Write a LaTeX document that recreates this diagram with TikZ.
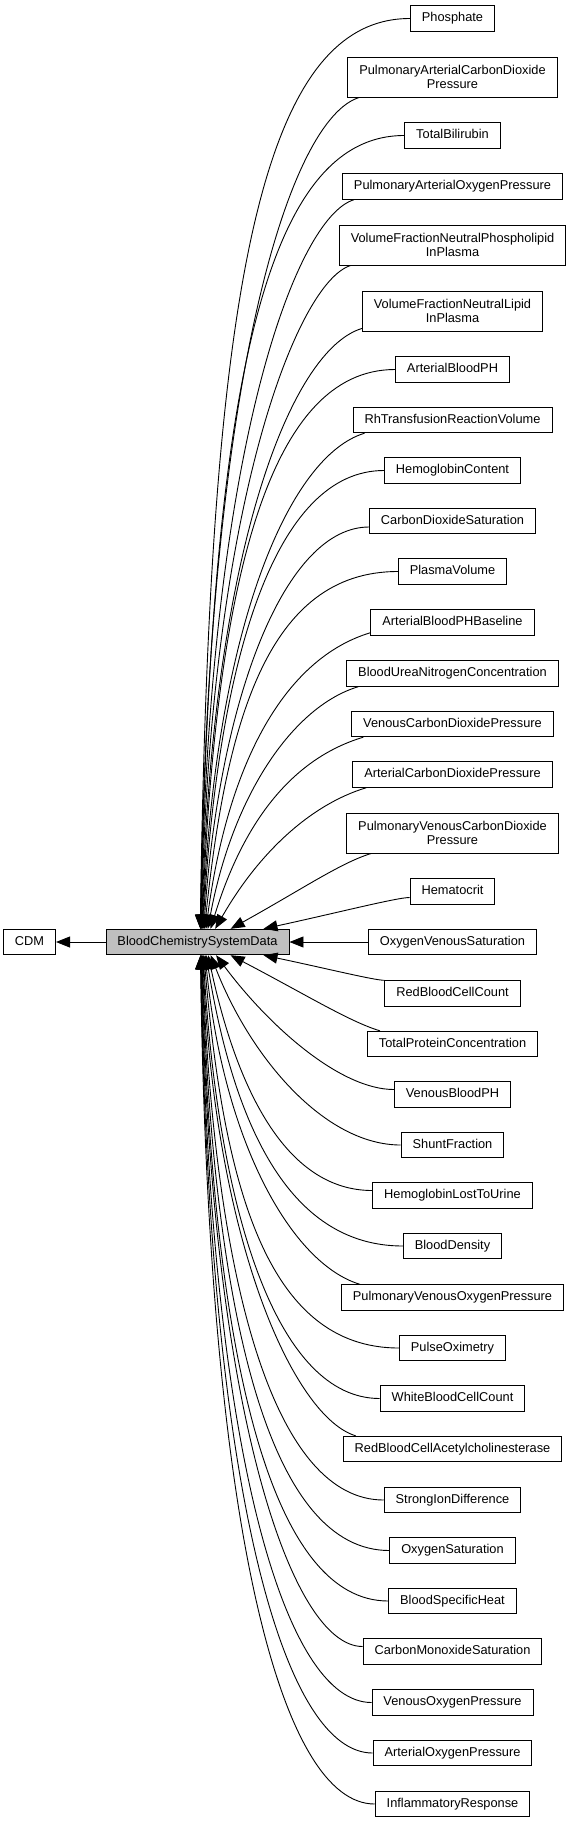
\documentclass[tikz,border=0pt]{standalone}
\usepackage{fontspec}
\setmainfont{Liberation Sans}
\usetikzlibrary{arrows.meta,calc}
\definecolor{bcfill}{HTML}{BFBFBF}
\tikzset{
 box/.style={draw=black, line width=0.9pt, fill=white, inner xsep=11.5pt, inner ysep=0pt, font=\fontsize{12.8}{14}\selectfont},
 one/.style={box, minimum height=25.5pt, text height=9.4pt, text depth=2.6pt},
 two/.style={box, minimum height=40pt, align=center},
 edge/.style={draw=black, line width=0.9pt, -{Triangle[length=14pt,width=11pt]}},
}
% #1 gamma (downward lean of first control), #2 start coordinate
\newcommand\upedge[2][0]{%
 \draw[edge] let \p1=(#2), \p2=(bcsd.north),
   \n1={\y1-\y2},
   \n2={\x2+min(66,2500/\n1)},
   \n3={max(300-0.65*(\x1-348),\x1-0.4*\n1)},
   \n4={min(0.5,40/\n1)},
   \n5={0.5+0.2*min(1,\n1/900)}
 in (\p1) .. controls (\n3,{\y1-#1*(\x1-\n3)}) and ({\n2+\n4*(\x1-\n2)},{\y2+\n5*\n1}) .. (\n2,\y2);}
\newcommand\lowedge[2][0]{%
 \draw[edge] let \p1=(#2), \p2=(bcsd.south),
   \n1={\y2-\y1},
   \n2={\x2+min(66,2500/\n1)},
   \n3={max(300-0.65*(\x1-348),\x1-0.4*\n1)},
   \n4={min(0.5,40/\n1)},
   \n5={0.5+0.2*min(1,\n1/900)}
 in (\p1) .. controls (\n3,{\y1+#1*(\x1-\n3)}) and ({\n2+\n4*(\x1-\n2)},{\y2-\n5*\n1}) .. (\n2,\y2);}
\begin{document}
\begin{tikzpicture}[x=1pt,y=1pt]
\useasboundingbox (0,0) rectangle (572,-1823);
\node[one] (cdm) at (29.5,-942) {CDM};
\node[one, fill=bcfill] (bcsd) at (197.5,-942) {BloodChemistrySystemData};
\node[one] (n1) at (452.5,-18.5) {Phosphate};
\node[two] (n2) at (452.5,-77) {PulmonaryArterialCarbonDioxide\\Pressure};
\node[one] (n3) at (452.5,-135.5) {TotalBilirubin};
\node[one] (n4) at (452.5,-186.5) {PulmonaryArterialOxygenPressure};
\node[two] (n5) at (452.5,-245) {VolumeFractionNeutralPhospholipid\\InPlasma};
\node[two] (n6) at (452.5,-311) {VolumeFractionNeutralLipid\\InPlasma};
\node[one] (n7) at (452.5,-369.5) {ArterialBloodPH};
\node[one] (n8) at (452.5,-420) {RhTransfusionReactionVolume};
\node[one] (n9) at (452.5,-470.5) {HemoglobinContent};
\node[one] (n10) at (452.5,-521) {CarbonDioxideSaturation};
\node[one] (n11) at (452.5,-571.5) {PlasmaVolume};
\node[one] (n12) at (452.5,-622.5) {ArterialBloodPHBaseline};
\node[one] (n13) at (452.5,-673.5) {BloodUreaNitrogenConcentration};
\node[one] (n14) at (452.5,-724) {VenousCarbonDioxidePressure};
\node[one] (n15) at (452.5,-774.5) {ArterialCarbonDioxidePressure};
\node[two] (n16) at (452.5,-833) {PulmonaryVenousCarbonDioxide\\Pressure};
\node[one] (n17) at (452.5,-891.5) {Hematocrit};
\node[one] (n18) at (452.5,-942) {OxygenVenousSaturation};
\node[one] (n19) at (452.5,-993.5) {RedBloodCellCount};
\node[one] (n20) at (452.5,-1044) {TotalProteinConcentration};
\node[one] (n21) at (452.5,-1094.5) {VenousBloodPH};
\node[one] (n22) at (452.5,-1145) {ShuntFraction};
\node[one] (n23) at (452.5,-1195.5) {HemoglobinLostToUrine};
\node[one] (n24) at (452.5,-1246) {BloodDensity};
\node[one] (n25) at (452.5,-1297.5) {PulmonaryVenousOxygenPressure};
\node[one] (n26) at (452.5,-1348) {PulseOximetry};
\node[one] (n27) at (452.5,-1398.5) {WhiteBloodCellCount};
\node[one] (n28) at (452.5,-1449) {RedBloodCellAcetylcholinesterase};
\node[one] (n29) at (452.5,-1500) {StrongIonDifference};
\node[one] (n30) at (452.5,-1550.5) {OxygenSaturation};
\node[one] (n31) at (452.5,-1601) {BloodSpecificHeat};
\node[one] (n32) at (452.5,-1651.5) {CarbonMonoxideSaturation};
\node[one] (n33) at (452.5,-1702.5) {VenousOxygenPressure};
\node[one] (n34) at (452.5,-1753) {ArterialOxygenPressure};
\node[one] (n35) at (452.5,-1804) {InflammatoryResponse};
% edges
\draw[edge] (bcsd) -- (cdm);
\draw[edge] (n18) -- (bcsd);
\upedge{n1.west}
\upedge[0.3]{[xshift=12pt]n2.south west}
\upedge{n3.west}
\upedge[0.3]{[xshift=12pt]n4.south west}
\upedge[0.3]{[xshift=12pt]n5.south west}
\upedge[0.3]{[yshift=3pt]n6.south west}
\upedge{n7.west}
\upedge[0.3]{[xshift=12pt]n8.south west}
\upedge{n9.west}
\upedge{[yshift=-6pt]n10.west}
\upedge{n11.west}
\upedge[0.3]{[yshift=3pt]n12.south west}
\upedge[0.3]{[xshift=12pt]n13.south west}
\upedge[0.3]{[xshift=12pt]n14.south west}
\upedge[0.3]{[xshift=14pt]n15.south west}
\upedge[0.3]{[xshift=25pt]n16.south west}
\upedge{[yshift=-6pt]n17.west}
\lowedge{n19.north west}
\lowedge[0.3]{[xshift=13pt]n20.north west}
\lowedge{[yshift=5pt]n21.west}
\lowedge{n22.west}
\lowedge{[yshift=5pt]n23.west}
\lowedge{n24.west}
\lowedge[0.3]{[xshift=19pt]n25.north west}
\lowedge{n26.west}
\lowedge{n27.west}
\lowedge[0.3]{[xshift=13pt]n28.north west}
\lowedge{n29.west}
\lowedge{n30.west}
\lowedge{n31.west}
\lowedge{[yshift=5pt]n32.west}
\lowedge{n33.west}
\lowedge{n34.west}
\lowedge{n35.west}
\end{tikzpicture}
\end{document}
